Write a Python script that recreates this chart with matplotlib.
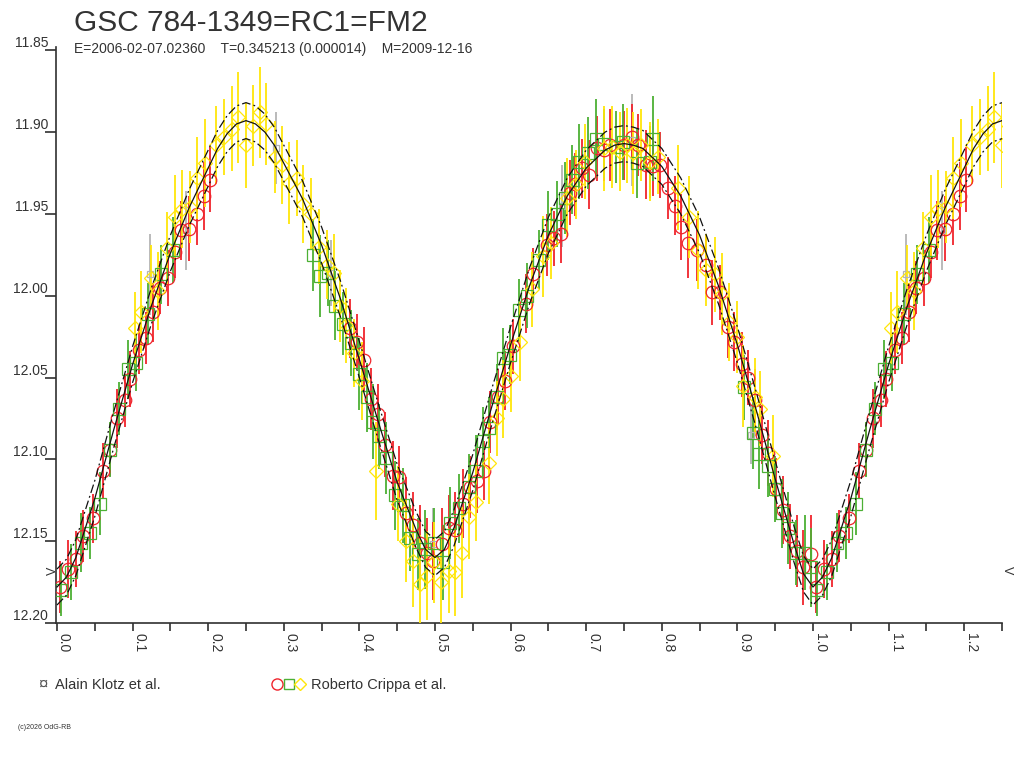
import numpy as np
import matplotlib.pyplot as plt
from matplotlib.lines import Line2D

plt.rcParams['font.family'] = ['Liberation Sans', 'DejaVu Sans']

TXT = '#333333'

## --- fitted light curve (phase 0..1) ---
model_phase = [0.000, 0.0125, 0.025, 0.050, 0.075, 0.100, 0.125, 0.150, 0.175, 0.200,
               0.2125, 0.225, 0.2375, 0.250, 0.2625, 0.275, 0.2875, 0.300, 0.325, 0.350,
               0.375, 0.400, 0.425, 0.450, 0.475, 0.4875, 0.500, 0.5125, 0.525, 0.550,
               0.575, 0.600, 0.625, 0.650, 0.675, 0.700, 0.725, 0.7375, 0.750, 0.7625,
               0.775, 0.800, 0.825, 0.850, 0.875, 0.900, 0.925, 0.950, 0.975, 0.9875, 1.000]
model_mag = [12.178, 12.172, 12.160, 12.124, 12.082, 12.042, 12.006, 11.974, 11.946, 11.922,
             11.910, 11.901, 11.895, 11.893, 11.895, 11.900, 11.908, 11.919, 11.941, 11.969,
             12.002, 12.039, 12.077, 12.114, 12.143, 12.155, 12.160, 12.155, 12.142, 12.108,
             12.068, 12.030, 11.994, 11.963, 11.939, 11.922, 11.911, 11.908, 11.907, 11.908,
             11.910, 11.921, 11.939, 11.963, 11.994, 12.030, 12.070, 12.112, 12.152, 12.170, 12.178]
band = 0.011   # half width of the dash-dot envelope

## --- Roberto Crippa et al. : red circles ---
red_phase = [0.004, 0.015, 0.025, 0.035, 0.048, 0.061, 0.070, 0.080, 0.090, 0.097,
             0.108, 0.118, 0.127, 0.136, 0.147, 0.156, 0.164, 0.175, 0.185, 0.195, 0.202,
             0.388, 0.397, 0.406, 0.416, 0.424, 0.434, 0.444, 0.453, 0.462, 0.471,
             0.480, 0.489, 0.498, 0.509, 0.518, 0.526, 0.537, 0.546, 0.556, 0.565,
             0.573, 0.584, 0.593,
             0.603, 0.620, 0.629, 0.648, 0.657, 0.667, 0.678, 0.685, 0.694, 0.704,
             0.714, 0.723, 0.732, 0.750, 0.760, 0.769, 0.779, 0.789, 0.798, 0.808,
             0.817, 0.825, 0.835, 0.847, 0.858, 0.867, 0.877, 0.887, 0.896, 0.906,
             0.914, 0.923, 0.932, 0.941, 0.951, 0.960, 0.970, 0.979, 0.987, 0.997]
red_mag = [12.178, 12.167, 12.161, 12.147, 12.136, 12.107, 12.094, 12.075, 12.064, 12.051,
           12.033, 12.026, 12.010, 11.995, 11.989, 11.973, 11.960, 11.959, 11.950, 11.939, 11.929,
           12.020, 12.028, 12.039, 12.063, 12.072, 12.091, 12.110, 12.111, 12.133, 12.140,
           12.151, 12.157, 12.162, 12.152, 12.142, 12.143, 12.127, 12.117, 12.113, 12.107,
           12.077, 12.062, 12.052,
           12.031, 12.005, 11.987, 11.969, 11.965, 11.962, 11.937, 11.932, 11.922, 11.926,
           11.910, 11.911, 11.908, 11.908, 11.903, 11.908, 11.920, 11.921, 11.920, 11.934,
           11.945, 11.958, 11.968, 11.972, 11.981, 11.998, 11.998, 12.019, 12.028, 12.042,
           12.050, 12.064, 12.085, 12.096, 12.118, 12.131, 12.147, 12.156, 12.166, 12.158]
red_err = [0.016, 0.018, 0.017, 0.016, 0.015, 0.017, 0.016, 0.018, 0.016, 0.017,
           0.015, 0.016, 0.018, 0.016, 0.017, 0.016, 0.018, 0.020, 0.019, 0.021, 0.020,
           0.018, 0.017, 0.020, 0.019, 0.018, 0.020, 0.021, 0.019, 0.022, 0.020,
           0.023, 0.021, 0.024, 0.022, 0.020, 0.023, 0.021, 0.019, 0.020, 0.018,
           0.019, 0.017, 0.018,
           0.017, 0.018, 0.016, 0.019, 0.017, 0.018, 0.020, 0.019, 0.018, 0.021,
           0.020, 0.019, 0.022, 0.021, 0.020, 0.019, 0.021, 0.018, 0.020, 0.019,
           0.018, 0.020, 0.021, 0.019, 0.018, 0.020, 0.017, 0.019, 0.018, 0.020,
           0.017, 0.019, 0.018, 0.020, 0.019, 0.021, 0.020, 0.022, 0.023, 0.024]

## --- green squares ---
green_phase = [0.005, 0.019, 0.032, 0.044, 0.057, 0.070, 0.082, 0.094, 0.104, 0.121, 0.138, 0.153,
               0.338, 0.348, 0.358, 0.368, 0.378, 0.389, 0.399, 0.410, 0.418, 0.426,
               0.435, 0.447, 0.458, 0.467, 0.477, 0.487, 0.499, 0.510, 0.520, 0.532,
               0.545, 0.554, 0.563, 0.572, 0.582, 0.590,
               0.599, 0.611, 0.622, 0.637, 0.650, 0.662, 0.672, 0.681, 0.690, 0.703,
               0.713, 0.723, 0.740, 0.749, 0.767, 0.784, 0.789,
               0.909, 0.920, 0.929, 0.940, 0.950, 0.959, 0.967, 0.978, 0.989, 0.998]
green_mag = [12.180, 12.169, 12.151, 12.145, 12.127, 12.094, 12.069, 12.045, 12.041, 12.011, 11.987, 11.972,
             11.975, 11.988, 11.986, 12.006, 12.017, 12.029, 12.048, 12.062, 12.077, 12.086,
             12.099, 12.122, 12.128, 12.148, 12.158, 12.155, 12.151, 12.163, 12.139, 12.130,
             12.117, 12.107, 12.089, 12.081, 12.062, 12.038,
             12.036, 12.009, 12.000, 11.978, 11.957, 11.950, 11.940, 11.929, 11.918, 11.913,
             11.904, 11.907, 11.909, 11.906, 11.919, 11.918, 11.904,
             12.056, 12.084, 12.097, 12.104, 12.118, 12.133, 12.142, 12.157, 12.157, 12.166]
green_err = [0.016, 0.017, 0.018, 0.016, 0.019, 0.017, 0.016, 0.018, 0.017, 0.019, 0.018, 0.020,
             0.022, 0.025, 0.020, 0.021, 0.019, 0.020, 0.022, 0.021, 0.023, 0.020,
             0.022, 0.021, 0.023, 0.020, 0.022, 0.024, 0.021, 0.023, 0.022, 0.021,
             0.020, 0.022, 0.021, 0.019, 0.020, 0.018,
             0.018, 0.019, 0.020, 0.018, 0.021, 0.020, 0.022, 0.021, 0.023, 0.022,
             0.024, 0.021, 0.022, 0.023, 0.021, 0.022, 0.026,
             0.020, 0.022, 0.021, 0.019, 0.020, 0.021, 0.022, 0.020, 0.023, 0.024]

## --- yellow diamonds ---
yellow_phase = [0.103, 0.111, 0.124, 0.134, 0.145, 0.156, 0.166, 0.176, 0.185, 0.196,
                0.210, 0.221, 0.231, 0.240, 0.250, 0.259, 0.268, 0.277, 0.288, 0.298,
                0.307, 0.317, 0.326, 0.336, 0.347, 0.357, 0.366,
                0.374, 0.382, 0.393, 0.403, 0.422, 0.451, 0.462, 0.471, 0.480, 0.490,
                0.499, 0.508, 0.518, 0.526, 0.536, 0.545, 0.554, 0.571, 0.582, 0.590,
                0.601, 0.612, 0.628, 0.643, 0.654, 0.674, 0.687, 0.698, 0.723, 0.734,
                0.745, 0.754, 0.762, 0.772, 0.784, 0.795, 0.821, 0.836, 0.848, 0.858,
                0.870, 0.880, 0.889, 0.899, 0.908, 0.923, 0.930, 0.947]
yellow_mag = [12.020, 12.010, 11.989, 11.997, 11.971, 11.952, 11.947, 11.946, 11.928, 11.919,
              11.908, 11.903, 11.898, 11.891, 11.908, 11.896, 11.888, 11.895, 11.915, 11.920,
              11.931, 11.928, 11.944, 11.950, 11.970, 11.981, 11.986,
              12.006, 12.018, 12.035, 12.052, 12.107, 12.127, 12.150, 12.162, 12.176, 12.171,
              12.163, 12.175, 12.168, 12.169, 12.157, 12.135, 12.126, 12.102, 12.075, 12.063,
              12.049, 12.028, 11.996, 11.976, 11.968, 11.940, 11.932, 11.918, 11.910, 11.909,
              11.912, 11.908, 11.913, 11.908, 11.918, 11.915, 11.934, 11.952, 11.972, 11.984,
              11.987, 11.999, 12.016, 12.025, 12.055, 12.062, 12.069, 12.098]
yellow_err = [0.022, 0.025, 0.020, 0.024, 0.022, 0.026, 0.024, 0.022, 0.025, 0.027,
              0.024, 0.023, 0.026, 0.028, 0.026, 0.025, 0.028, 0.025, 0.022, 0.024,
              0.025, 0.023, 0.024, 0.022, 0.023, 0.021, 0.024,
              0.022, 0.023, 0.021, 0.024, 0.030, 0.023, 0.025, 0.028, 0.030, 0.027,
              0.025, 0.028, 0.026, 0.027, 0.028, 0.026, 0.024, 0.025, 0.023, 0.024,
              0.022, 0.024, 0.023, 0.025, 0.022, 0.024, 0.021, 0.023, 0.026, 0.025,
              0.024, 0.023, 0.025, 0.022, 0.024, 0.023, 0.026, 0.025, 0.024, 0.022,
              0.023, 0.025, 0.024, 0.022, 0.025, 0.024, 0.023, 0.025]

## --- Alain Klotz et al. : grey ---
klotz_phase = [0.123, 0.170, 0.290, 0.363, 0.497, 0.668, 0.760, 0.918]
klotz_mag = [11.987, 11.960, 11.910, 11.986, 12.152, 11.945, 11.905, 12.085]
klotz_err = [0.025, 0.024, 0.022, 0.020, 0.022, 0.025, 0.028, 0.018]

xtick_vals = [0.0, 0.1, 0.2, 0.3, 0.4, 0.5, 0.6, 0.7, 0.8, 0.9, 1.0, 1.1, 1.2]
ytick_vals = [11.85, 11.90, 11.95, 12.00, 12.05, 12.10, 12.15, 12.20]


def fold(phase, mag, err):
    # repeat the first quarter of the cycle after phase 1
    p, m, e = np.array(phase), np.array(mag), np.array(err)
    sel = p <= 0.26
    return np.r_[p, p[sel] + 1], np.r_[m, m[sel]], np.r_[e, e[sel]]


fig = plt.figure(figsize=(10.24, 7.68), dpi=100)
ax = fig.add_axes([56 / 1024, 1 - 623 / 768, 946 / 1024, 576 / 768])

series = [
    (klotz_phase, klotz_mag, klotz_err, '#b4b4b4', 's', 5),
    (red_phase, red_mag, red_err, '#f0242c', 'o', 9),
    (green_phase, green_mag, green_err, '#4cb034', 's', 8),
    (yellow_phase, yellow_mag, yellow_err, '#ffe60a', 'D', 7),
]
for ph, mg, er, col, mk, ms in series:
    p, m, e = fold(ph, mg, er)
    ax.errorbar(p, m, yerr=e, fmt=mk, mfc='none', mec=col, mew=0.9, ms=ms,
                ecolor=col, elinewidth=1.3, capsize=0, zorder=3)

mp = np.array(model_phase)
mm = np.array(model_mag)
sel = (mp > 0) & (mp <= 0.25)
mp = np.r_[mp, mp[sel] + 1]
mm = np.r_[mm, mm[sel]]
ax.plot(mp, mm, color='#111111', lw=0.9, zorder=5)
ax.plot(mp, mm - band, color='#111111', lw=0.9, ls=(0, (7, 2.5, 1.5, 2.5)), zorder=5)
ax.plot(mp, mm + band, color='#111111', lw=0.9, ls=(0, (7, 2.5, 1.5, 2.5)), zorder=5)

ax.set_xlim(-0.0013, 1.25)
ax.set_ylim(12.20, 11.848)

for s in ['top', 'right']:
    ax.spines[s].set_visible(False)
for s in ['left', 'bottom']:
    ax.spines[s].set_color('#303030')
    ax.spines[s].set_linewidth(1.2)

ax.set_xticks(xtick_vals)
ax.set_xticks(np.arange(0.05, 1.26, 0.1), minor=True)
ax.set_xticklabels(['%.1f' % v for v in xtick_vals], rotation=270,
                   ha='left', va='top', fontsize=10, color=TXT)
ax.tick_params(axis='x', which='both', direction='out', length=6, width=1.2,
               color='#303030', pad=1.5)

ax.set_yticks(ytick_vals)
ax.set_yticklabels([])
ax.tick_params(axis='y', direction='out', length=8, width=1.2, color='#303030')
ytrans = ax.get_yaxis_transform()
for v in ytick_vals:
    ax.text(-8 / 946, v, '%.2f' % v, transform=ytrans, ha='right', va='bottom',
            fontsize=10, color=TXT, clip_on=False)

# V markers on both sides
ax.text(-0.006, 12.168, 'V', rotation=90, ha='center', va='center',
        fontsize=9, color=TXT, clip_on=False)
ax.text(1.256, 12.168, 'V', rotation=270, ha='center', va='center',
        fontsize=9, color=TXT, clip_on=False)

# titles
fig.text(74 / 1024, 1 - 31 / 768, 'GSC 784-1349=RC1=FM2', fontsize=21.5,
         va='baseline', color=TXT)
fig.text(74 / 1024, 1 - 53 / 768,
         'E=2006-02-07.02360    T=0.345213 (0.000014)    M=2009-12-16',
         fontsize=10, va='baseline', color=TXT)

# legend
fig.text(38 / 1024, 1 - 689 / 768, '\u00a4', fontsize=12, va='baseline', color='#555555')
fig.text(55 / 1024, 1 - 689 / 768, 'Alain Klotz et al.', fontsize=10.5,
         va='baseline', color=TXT)
for xp, col, mk, ms in [(277, '#f0242c', 'o', 8), (289, '#4cb034', 's', 7),
                        (300, '#ffe60a', 'D', 6)]:
    fig.add_artist(Line2D([xp / 1024], [1 - 684 / 768], marker=mk, ms=ms,
                          mfc='none', mec=col, mew=1.0, ls='none',
                          transform=fig.transFigure))
fig.text(311 / 1024, 1 - 689 / 768, 'Roberto Crippa et al.', fontsize=10.5,
         va='baseline', color=TXT)

fig.text(18 / 1024, 1 - 729 / 768, '(c)2026 OdG-RB', fontsize=5, color=TXT)

fig.savefig('out.png', dpi=100)
